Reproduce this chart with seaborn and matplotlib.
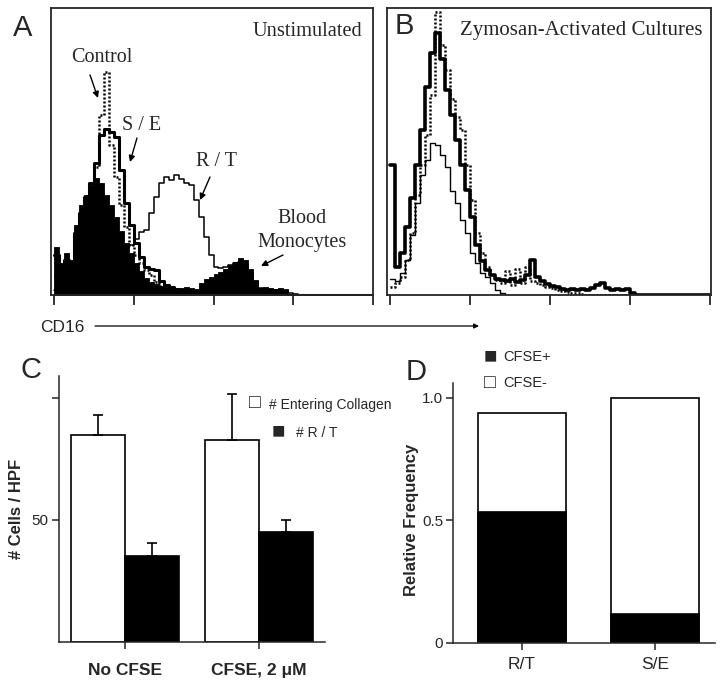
import numpy as np
import pandas as pd
import matplotlib
matplotlib.use('Agg')
import matplotlib.pyplot as plt
import seaborn as sns

# ---- flow cytometry histograms (64 channels across 4 log decades of CD16) ----
n_bins = 64
edges = np.linspace(0, 4, n_bins + 1)
centers = (edges[:-1] + edges[1:]) / 2

# Panel A: unstimulated cultures
a_monocytes = [48, 32, 42, 35, 70, 90, 100, 110, 117, 112, 100, 90, 78, 64, 52, 42,
               32, 24, 17, 13, 11, 9, 8, 7, 6, 7, 8, 7, 6, 12, 16, 18,
               21, 23, 26, 30, 33, 37, 35, 26, 15, 7, 8, 7, 6, 7, 6] + [0] * 17
a_control = [20, 15, 18, 22, 40, 60, 85, 105, 128, 180, 223, 150, 118, 90, 68, 50,
             40, 32, 25, 20, 13, 9, 6, 4, 3, 2, 2, 1, 1] + [0] * 35
a_se = [40, 28, 35, 32, 62, 82, 98, 112, 132, 160, 166, 163, 158, 125, 92, 70,
        52, 38, 28, 26, 25, 14, 10, 8, 6, 5, 4, 4, 3, 3, 2, 2,
        2, 1, 1] + [0] * 29
a_rt = [5, 4, 5, 6, 8, 10, 12, 14, 16, 20, 24, 30, 36, 42, 48, 50,
        56, 63, 65, 82, 98, 112, 118, 115, 120, 116, 112, 110, 95, 78, 58, 40,
        28, 27, 28, 30, 32, 33, 30, 22, 13, 7, 6, 5, 5, 4, 3, 2, 1] + [0] * 15

# Panel B: zymosan-activated cultures
b_thick = [130, 28, 42, 68, 97, 130, 165, 208, 242, 262, 236, 205, 180, 155, 130, 105,
           78, 50, 34, 25, 20, 16, 15, 14, 16, 13, 15, 20, 35, 18, 14, 11,
           9, 8, 6, 5, 6, 5, 6, 5, 7, 10, 12, 7, 5, 6, 5, 6, 2] + [0] * 15
b_dotted = [8, 12, 18, 35, 62, 100, 130, 160, 200, 283, 250, 225, 196, 178, 165, 130,
            95, 62, 42, 28, 20, 15, 12, 24, 10, 26, 12, 28, 14, 12, 10, 8,
            7, 5, 4, 3, 2, 2, 1] + [0] * 25
b_thin = [16, 14, 22, 35, 60, 92, 120, 135, 152, 150, 140, 128, 104, 92, 75, 62,
          42, 32, 22, 18, 12, 5, 2] + [0] * 41

# Panel C: cells per high power field
c_groups = ['No CFSE', 'CFSE, 2 \u03bcM']
c_series = ['# Entering Collagen', '# R / T']
c_entering = [84.7, 82.9]
c_entering_err = [8.5, 18.9]
c_rt = [35.1, 45.2]
c_rt_err = [5.5, 4.7]

# Panel D: relative frequency of CFSE+ / CFSE- cells
d_pops = ['R/T', 'S/E']
d_cfse_pos = [0.536, 0.117]
d_cfse_neg = [0.403, 0.883]

W, H = 720, 686
sns.set_style('ticks')
plt.rcParams['font.family'] = ['Liberation Sans', 'DejaVu Sans']
SERIF = ['Liberation Serif', 'DejaVu Serif']


def px(x, y):
    return x / W, 1 - y / H


def box(l, t, r, b):
    return [l / W, 1 - b / H, (r - l) / W, (b - t) / H]


fig = plt.figure(figsize=(W / 100, H / 100), dpi=100)

ax_a = fig.add_axes(box(51, 8, 373, 295))
ax_b = fig.add_axes(box(387, 8, 711, 295))
ax_c = fig.add_axes(box(59, 376, 325, 642))
ax_d = fig.add_axes(box(453, 383, 715, 643))


def hist(ax, values, **kw):
    df = pd.DataFrame({'cd16': centers, 'events': values})
    sns.histplot(data=df, x='cd16', weights='events', bins=edges.tolist(), element='step',
                 color='black', ax=ax, **kw)


# --- A ---
hist(ax_a, a_monocytes, fill=True, alpha=1, linewidth=0.6)
hist(ax_a, a_rt, fill=False, linewidth=1.1)
hist(ax_a, a_control, fill=False, linewidth=1.8, linestyle=(0, (0.8, 0.8)))
hist(ax_a, a_se, fill=False, linewidth=2.2)

# --- B ---
hist(ax_b, b_thin, fill=False, linewidth=1.0)
hist(ax_b, b_dotted, fill=False, linewidth=1.8, linestyle=(0, (0.8, 0.8)))
hist(ax_b, b_thick, fill=False, linewidth=2.6)

for ax, xl in ((ax_a, (-0.038, 4.0)), (ax_b, (-0.0375, 4.01))):
    ax.set_xlim(*xl)
    ax.set_ylim(0, 287)
    ax.set_xticks([0, 1, 2, 3, 4])
    ax.set_xticklabels([])
    ax.set_yticks([])
    ax.set_xlabel('')
    ax.set_ylabel('')
    ax.tick_params(axis='x', direction='out', length=7, width=1.3)
    for s in ax.spines.values():
        s.set_linewidth(1.3)

fig.text(*px(23, 28), 'A', fontsize=21, ha='center', va='center')
fig.text(*px(404, 26), 'B', fontsize=21, ha='center', va='center')
fig.text(*px(362, 32), 'Unstimulated', family=SERIF, fontsize=14.7, ha='right', va='center')
fig.text(*px(702, 31), 'Zymosan-Activated Cultures', family=SERIF, fontsize=15,
         ha='right', va='center')
fig.text(*px(102, 57), 'Control', family=SERIF, fontsize=14.5, ha='center', va='center')
fig.text(*px(142, 125), 'S / E', family=SERIF, fontsize=14.5, ha='center', va='center')
fig.text(*px(216, 161), 'R / T', family=SERIF, fontsize=14.5, ha='center', va='center')
fig.text(*px(302, 218), 'Blood', family=SERIF, fontsize=14.5, ha='center', va='center')
fig.text(*px(302, 243), 'Monocytes', family=SERIF, fontsize=14.5, ha='center', va='center')

arrow = dict(arrowstyle='-|>', color='black', lw=1.0, mutation_scale=9, shrinkA=0, shrinkB=0)
for start, end in (((90, 75), (98, 98)), ((137, 138), (130, 162)),
                   ((210, 177), (200, 200)), ((283, 255), (261, 266))):
    fig.add_artist(matplotlib.patches.FancyArrowPatch(px(*start), px(*end),
                                                      transform=fig.transFigure, **arrow))

fig.text(*px(40, 327), 'CD16', fontsize=12.5, ha='left', va='center')
fig.add_artist(matplotlib.patches.FancyArrowPatch(
    px(95, 326), px(479, 326), transform=fig.transFigure,
    arrowstyle='-|>', color='black', lw=0.9, mutation_scale=7, shrinkA=0, shrinkB=0))

# --- C ---
df_c = pd.DataFrame({
    'group': c_groups * 2,
    'series': [c_series[0]] * 2 + [c_series[1]] * 2,
    'cells': c_entering + c_rt,
})
sns.barplot(data=df_c, x='group', y='cells', hue='series', hue_order=c_series,
            palette=['white', 'black'], saturation=1, edgecolor='black', linewidth=1.2,
            errorbar=None, width=0.8, legend=False, ax=ax_c)
bars = [p for p in ax_c.patches if p.get_height() > 0]
errs = c_entering_err + c_rt_err
bx = [p.get_x() + p.get_width() / 2 for p in bars]
by = [p.get_height() for p in bars]
ax_c.errorbar(bx, by, yerr=[[0] * len(errs), errs], fmt='none', ecolor='black',
              elinewidth=1.2, capsize=3.5, capthick=1.2)
ax_c.set_xlim(-0.493, 1.493)
ax_c.set_ylim(0, 109)
ax_c.set_yticks([50, 100])
ax_c.set_yticklabels(['50', ''])
ax_c.set_xlabel('')
ax_c.set_ylabel('# Cells / HPF', fontsize=12, fontweight='bold')
ax_c.yaxis.set_label_coords(-0.132, 0.5)
ax_c.tick_params(axis='y', direction='out', length=5, width=1.1, labelsize=11, pad=3)
ax_c.tick_params(axis='x', direction='out', length=5, width=1.1, labelsize=12.5, pad=10)
for lab in ax_c.get_xticklabels():
    lab.set_fontweight('bold')

fig.text(*px(31, 370), 'C', fontsize=21, ha='center', va='center')
fig.text(*px(255, 404), '\u25a1', fontsize=14, ha='center', va='center')
fig.text(*px(269, 405), c_series[0], fontsize=10, ha='left', va='center')
fig.text(*px(278, 432), '\u25a0', fontsize=16, ha='center', va='center')
fig.text(*px(296, 433), c_series[1], fontsize=10, ha='left', va='center')

# --- D ---
df_d = pd.DataFrame({
    'population': d_pops,
    'cfse_pos': d_cfse_pos,
    'total': [p + n for p, n in zip(d_cfse_pos, d_cfse_neg)],
})
sns.barplot(data=df_d, x='population', y='total', color='white', saturation=1,
            edgecolor='black', linewidth=1.2, width=0.66, errorbar=None, ax=ax_d)
sns.barplot(data=df_d, x='population', y='cfse_pos', color='black', saturation=1,
            edgecolor='black', linewidth=1.2, width=0.66, errorbar=None, ax=ax_d)
ax_d.set_xlim(-0.519, 1.452)
ax_d.set_ylim(0, 1.061)
ax_d.set_yticks([0, 0.5, 1.0])
ax_d.set_yticklabels(['0', '0.5', '1.0'])
ax_d.set_xlabel('')
ax_d.set_ylabel('Relative Frequency', fontsize=12, fontweight='bold')
ax_d.yaxis.set_label_coords(-0.13, 0.473)
ax_d.tick_params(axis='y', direction='out', length=5, width=1.1, labelsize=11, pad=2)
ax_d.tick_params(axis='x', direction='out', length=5, width=1.1, labelsize=12.5, pad=5)

fig.text(*px(416, 372), 'D', fontsize=21, ha='center', va='center')
fig.text(*px(490, 357), '\u25a0', fontsize=16, ha='center', va='center')
fig.text(*px(503, 357), 'CFSE+', fontsize=10.5, ha='left', va='center')
fig.text(*px(490, 383), '\u25a1', fontsize=14, ha='center', va='center')
fig.text(*px(503, 383), 'CFSE-', fontsize=10.5, ha='left', va='center')

for ax in (ax_c, ax_d):
    sns.despine(ax=ax)
    for s in ax.spines.values():
        s.set_linewidth(1.1)

fig.savefig('out.png', dpi=100)
